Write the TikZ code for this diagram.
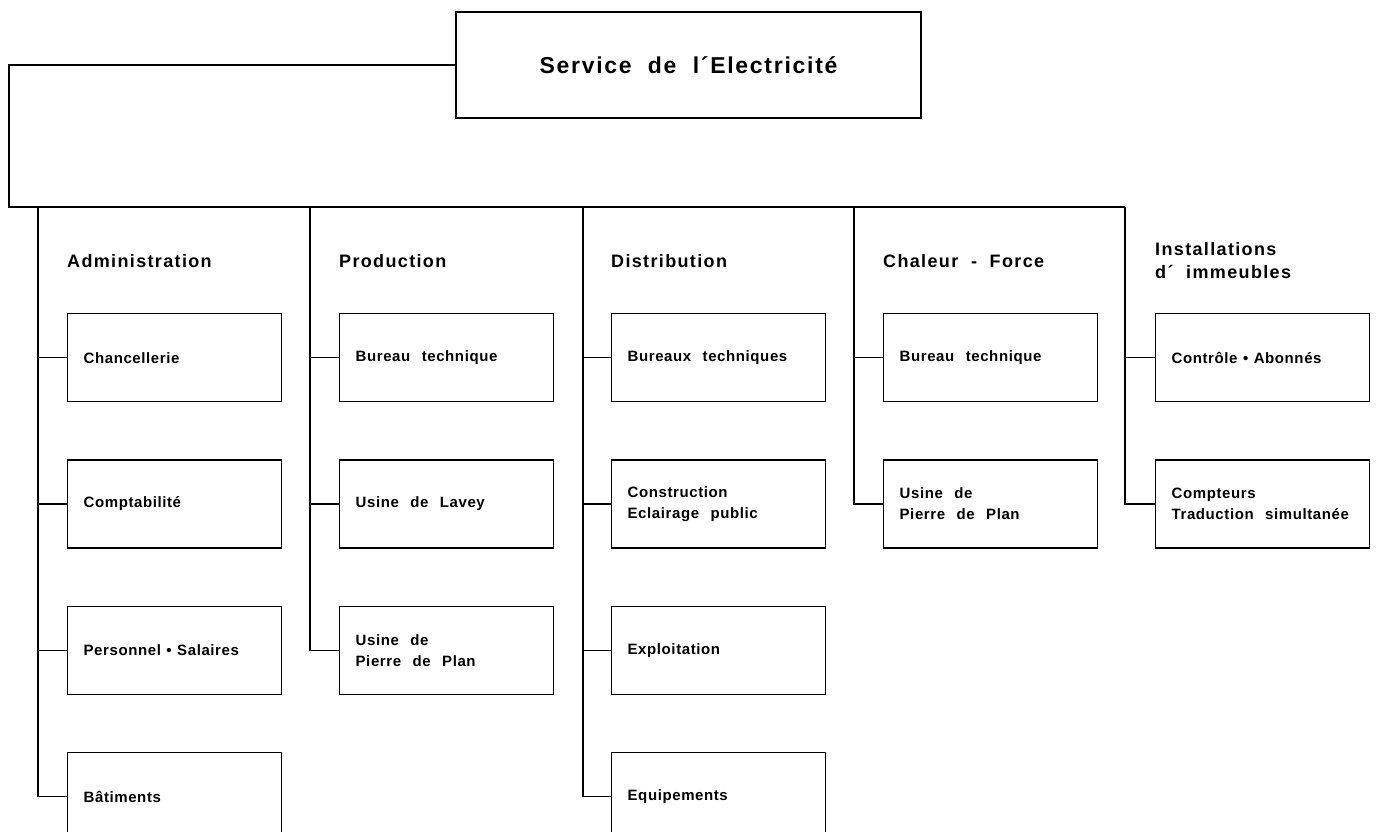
\documentclass[tikz,border=0pt]{standalone}
\usepackage{fontspec}
\setmainfont{Liberation Sans}[LetterSpace=7.5, WordSpace=2]
\newfontfamily\unitfont{Liberation Sans}[LetterSpace=4, WordSpace=2.4]
\usetikzlibrary{positioning}

\newcommand{\dotsep}{\hspace{5.5pt}\textbullet\hspace{5.5pt}}

\begin{document}
\begin{tikzpicture}[x=1pt, y=-1pt,
    unit/.style={draw, line width=1.3pt, minimum width=214pt, minimum height=88pt,
                 text width=182pt, inner xsep=16pt, align=flush left,
                 font=\unitfont\bfseries\fontsize{15}{21}\selectfont},
    head/.style={anchor=base west, inner sep=0pt, align=left,
                 font=\bfseries\fontsize{18}{23}\selectfont},
    link/.style={line width=1.1pt},
    node distance=57pt
]
\useasboundingbox (0,0) rectangle (1387,832);
\clip (0,0) rectangle (1387,832);

\node[draw, line width=1.3pt, minimum width=465pt, minimum height=106pt,
      font=\bfseries\fontsize{23}{26}\selectfont] (svc) at (688.5,65) {Service de l´Electricité};

\node[head] (adm) at (67,267) {Administration};
\node[head] (prod) at (339,267) {Production};
\node[head] (distr) at (611,267) {Distribution};
\node[head] (chal) at (883,267) {Chaleur - Force};
\node[head] (inst) at (1155,278) {Installations\\d´ immeubles};

\node[unit, anchor=north west] (chanc) at (67,313) {Chancellerie};
\node[unit, below=of chanc] (compta) {Comptabilité};
\node[unit, below=of compta] (pers) {Personnel\dotsep Salaires};
\node[unit, below=of pers] (bat) {Bâtiments};

\node[unit, anchor=north west] (bprod) at (339,313) {Bureau technique};
\node[unit, below=of bprod] (lavey) {Usine de Lavey};
\node[unit, below=of lavey] (ppprod) {Usine de\\Pierre de Plan};

\node[unit, anchor=north west] (bdist) at (611,313) {Bureaux techniques};
\node[unit, below=of bdist] (constr) {Construction\\Eclairage public};
\node[unit, below=of constr] (expl) {Exploitation};
\node[unit, below=of expl] (equip) {Equipements};

\node[unit, anchor=north west] (bchal) at (883,313) {Bureau technique};
\node[unit, below=of bchal] (ppchal) {Usine de\\Pierre de Plan};

\node[unit, anchor=north west] (ctrl) at (1155,313) {Contrôle\dotsep Abonnés};
\node[unit, below=of ctrl] (cpt) {Compteurs\\Traduction simultanée};

\coordinate (corner) at (9,207);
\coordinate (colA) at (38,207);
\coordinate (colB) at (310,207);
\coordinate (colC) at (583,207);
\coordinate (colD) at (854,207);
\coordinate (colE) at (1125,207);

\draw[link] (svc.west) -| (corner) -- (colE);

\draw[link] (colA) |- (bat.west);
\draw[link] (chanc.west) -- (chanc.west -| colA);
\draw[link] (compta.west) -- (compta.west -| colA);
\draw[link] (pers.west) -- (pers.west -| colA);

\draw[link] (colB) |- (ppprod.west);
\draw[link] (bprod.west) -- (bprod.west -| colB);
\draw[link] (lavey.west) -- (lavey.west -| colB);

\draw[link] (colC) |- (equip.west);
\draw[link] (bdist.west) -- (bdist.west -| colC);
\draw[link] (constr.west) -- (constr.west -| colC);
\draw[link] (expl.west) -- (expl.west -| colC);

\draw[link] (colD) |- (ppchal.west);
\draw[link] (bchal.west) -- (bchal.west -| colD);

\draw[link] (colE) |- (cpt.west);
\draw[link] (ctrl.west) -- (ctrl.west -| colE);
\end{tikzpicture}
\end{document}
